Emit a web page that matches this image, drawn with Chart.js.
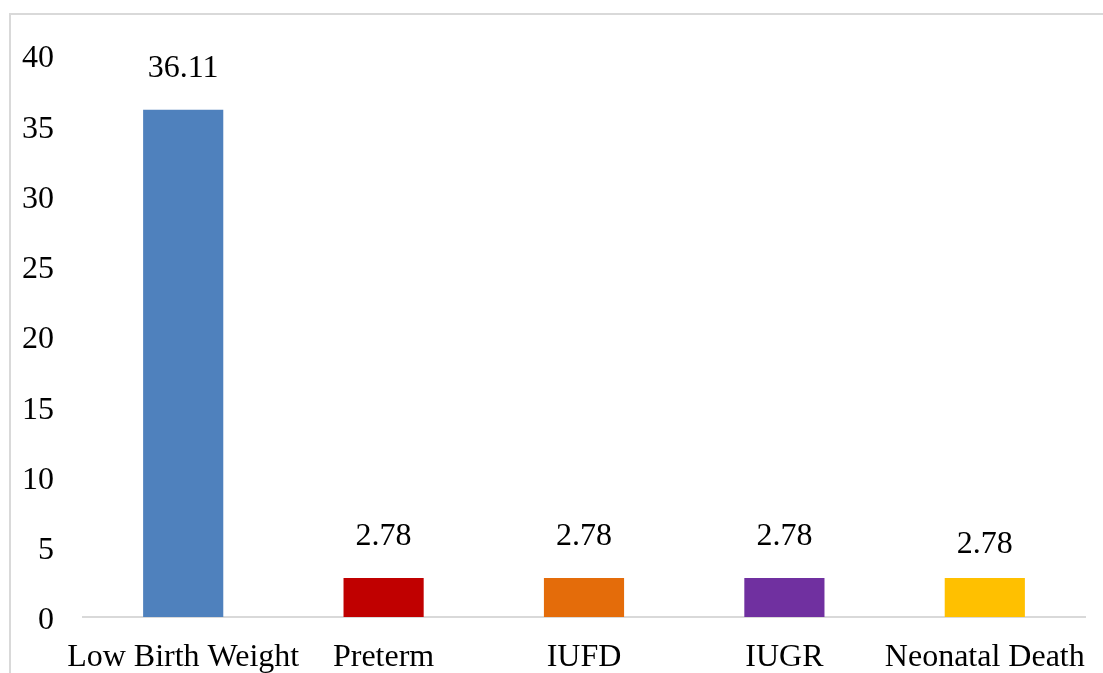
<!DOCTYPE html>
<html>
<head>
<meta charset="utf-8">
<script src="https://cdn.jsdelivr.net/npm/chart.js@4/dist/chart.umd.min.js"></script>
<style>
  html, body { margin: 0; padding: 0; background: #ffffff; overflow: hidden; }
  canvas { display: block; }
</style>
</head>
<body>
<canvas id="chart" width="1103" height="673"></canvas>
<script>
// Outcome categories and their percentages
const categories = ["Low Birth Weight", "Preterm", "IUFD", "IUGR", "Neonatal Death"];
const values = [36.11, 2.78, 2.78, 2.78, 2.78];
const valueLabels = ["36.11", "2.78", "2.78", "2.78", "2.78"];
const barColors = ["#4F81BD", "#C00000", "#E46C0A", "#7030A0", "#FFC000"];
const yTicks = [0, 5, 10, 15, 20, 25, 30, 35, 40];

const FONT = "'Liberation Serif', 'Times New Roman', serif";

// Light grey frame around the chart
const framePlugin = {
  id: 'frame',
  beforeDraw(chart) {
    const ctx = chart.ctx;
    ctx.save();
    ctx.fillStyle = '#ffffff';
    ctx.fillRect(0, 0, chart.width, chart.height);
    ctx.strokeStyle = '#d9d9d9';
    ctx.lineWidth = 2;
    ctx.strokeRect(10, 14, chart.width + 20, chart.height + 20);
    ctx.restore();
  }
};

// Value labels above each bar
const valueLabelPlugin = {
  id: 'valueLabels',
  afterDatasetsDraw(chart, args, opts) {
    const ctx = chart.ctx;
    const meta = chart.getDatasetMeta(0);
    ctx.save();
    ctx.font = `32px ${FONT}`;
    ctx.fillStyle = '#000000';
    ctx.textAlign = 'center';
    ctx.textBaseline = 'alphabetic';
    meta.data.forEach((bar, i) => {
      const nudge = (opts.nudge && opts.nudge[i]) || 0;
      ctx.fillText(valueLabels[i], bar.x, bar.y - 33 + nudge);
    });
    ctx.restore();
  }
};

new Chart(document.getElementById('chart'), {
  type: 'bar',
  data: {
    labels: categories,
    datasets: [{
      data: values,
      backgroundColor: barColors,
      borderWidth: 0,
      barPercentage: 0.4,
      categoryPercentage: 1.0
    }]
  },
  options: {
    responsive: false,
    animation: false,
    devicePixelRatio: 1,
    layout: { padding: { left: 0, right: 18, top: 55, bottom: 0 } },
    plugins: {
      legend: { display: false },
      tooltip: { enabled: false },
      valueLabels: { nudge: [0, 0, 0, 0, 8] }
    },
    scales: {
      x: {
        grid: { display: false, drawTicks: false },
        border: { display: true, color: '#d9d9d9', width: 2 },
        ticks: {
          color: '#000000',
          font: { family: FONT, size: 32 },
          padding: 21,
          maxRotation: 0,
          autoSkip: false
        },
        afterFit(scale) {
          scale.height = 56;
          scale.paddingLeft = 0;
          scale.paddingRight = 0;
        }
      },
      y: {
        min: 0,
        max: 40,
        grid: { display: false, drawTicks: false },
        border: { display: false },
        afterBuildTicks(scale) { scale.ticks = yTicks.map(v => ({ value: v })); },
        ticks: {
          color: '#000000',
          font: { family: FONT, size: 32 },
          padding: 29,
          labelOffset: 4
        },
        afterFit(scale) { scale.width = 83; }
      }
    }
  },
  plugins: [framePlugin, valueLabelPlugin]
});
</script>
</body>
</html>
